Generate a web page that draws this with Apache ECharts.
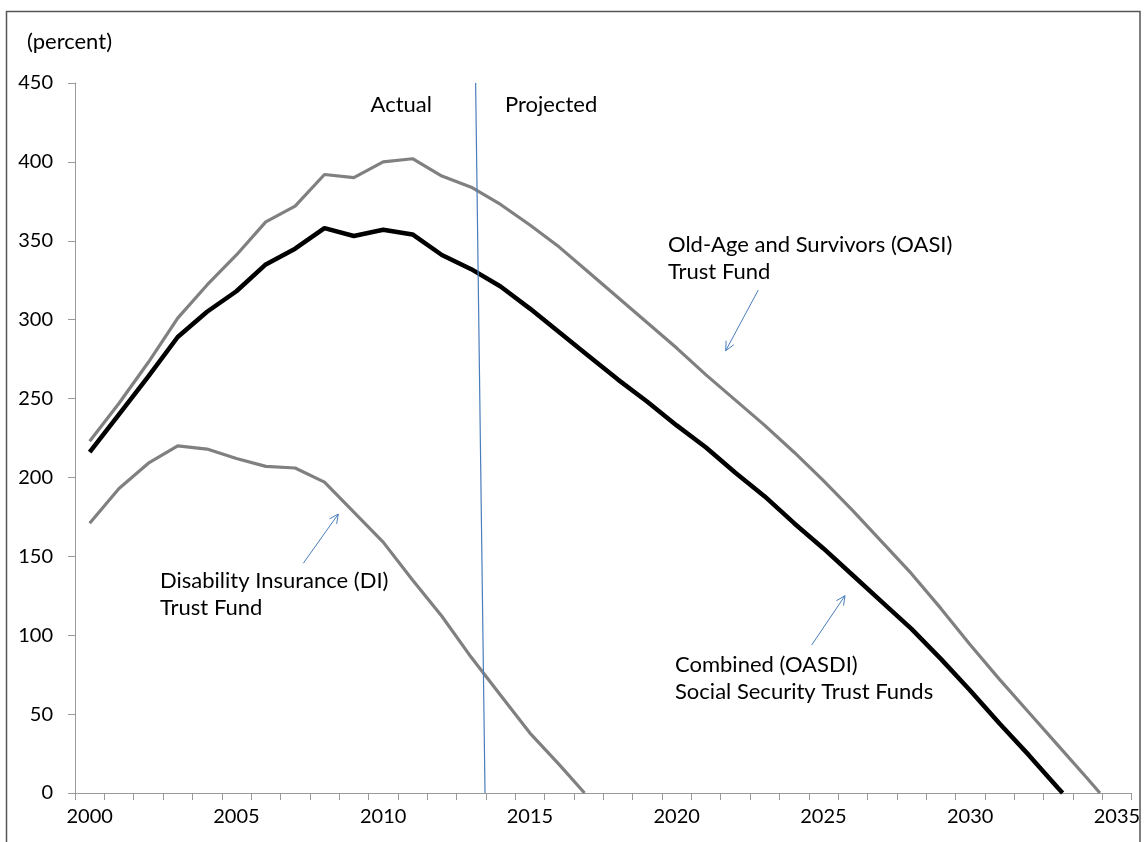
<!DOCTYPE html>
<html>
<head>
<meta charset="utf-8">
<script src="https://cdn.jsdelivr.net/npm/echarts@6/dist/echarts.min.js"></script>
<style>
html,body{margin:0;padding:0;background:#fff;}
#chart{width:1146px;height:842px;}
</style>
</head>
<body>
<div id="chart"></div>
<script>
// ---- data ----
const categories = [];
for (let y = 2000; y <= 2035; y++) categories.push(String(y));
const years = [2000,2001,2002,2003,2004,2005,2006,2007,2008,2009,2010,2011,2012,2013,2014,2015,2016,2017,2018,2019,2020,2021,2022,2023,2024,2025,2026,2027,2028,2029,2030,2031,2032,2033,2034];
const oasiValues = [223,247,273,301,322,341,362,372,392,390,400,402,391,384,373,360,346,330,314,298,282,265,249,233,216,198,179,159,139,117,94,72,51,30,9];
const oasdiValues = [216,240,264,289,305,318,335,345,358,353,357,354,341,332,321,307,292,277,262,248,233,219,203,188,171,155,138,121,104,85,65,44,24,3];
const diValues = [171,193,209,220,218,212,207,206,197,178,159,135,112,86,62,38,18];
const oasiDepletion = [2034.42, 0];
const oasdiDepletion = [2033.15, 0];
const diDepletion = [2016.86, 0];
const actualProjectedDivider = [[2013.15, 450], [2013.47, 0]];
const yTicks = {min: 0, max: 450, interval: 50};

function build(vals, end) {
  const d = vals.map((v, i) => [years[i], v]);
  d.push(end);
  return d;
}

const FONT = 'Lato';
const chart = echarts.init(document.getElementById('chart'));

function arrow(tail, tip) {
  const dx = tip[0] - tail[0], dy = tip[1] - tail[1];
  const len = Math.sqrt(dx*dx + dy*dy);
  const ux = dx/len, uy = dy/len;
  const hl = 10, ang = Math.PI/7;
  const c = Math.cos(ang), s = Math.sin(ang);
  const b1 = [tip[0] - hl*(ux*c - uy*s), tip[1] - hl*(uy*c + ux*s)];
  const b2 = [tip[0] - hl*(ux*c + uy*s), tip[1] - hl*(uy*c - ux*s)];
  const st = {stroke: '#4a7ebb', lineWidth: 1, fill: null};
  return [
    {type: 'line', shape: {x1: tail[0], y1: tail[1], x2: tip[0], y2: tip[1]}, style: st, z: 10},
    {type: 'polyline', shape: {points: [b1, tip, b2]}, style: st, z: 10}
  ];
}

function txt(x, y, text, align) {
  return {type: 'text', x: x, y: y, style: {text: text, fill: '#000', font: '22px ' + FONT, textAlign: align || 'left', textVerticalAlign: 'middle'}, z: 10};
}

const graphics = [
  {type: 'rect', shape: {x: 6.5, y: 11.5, width: 1133.5, height: 850}, style: {fill: null, stroke: '#555', lineWidth: 1.5}, z: 0},
  txt(27, 42, '(percent)'),
  txt(432, 105, 'Actual', 'right'),
  txt(505, 105, 'Projected'),
  txt(668, 245, 'Old-Age and Survivors (OASI)'),
  txt(668, 272, 'Trust Fund'),
  txt(160, 581, 'Disability Insurance (DI)'),
  txt(160, 608, 'Trust Fund'),
  txt(675, 665, 'Combined (OASDI)'),
  txt(675, 692, 'Social Security Trust Funds')
].concat(arrow([758.3, 290], [725.7, 350.7]))
 .concat(arrow([303.3, 563.3], [338.3, 514]))
 .concat(arrow([811.7, 645], [845, 595.7]));

chart.setOption({
  animation: false,
  backgroundColor: '#fff',
  grid: {left: 75, right: 14.4, top: 83, bottom: 49, containLabel: false},
  xAxis: [
    {
      type: 'category', data: categories, boundaryGap: true,
      axisLine: {lineStyle: {color: '#999', width: 1}},
      axisTick: {show: true, interval: 0, length: 7, lineStyle: {color: '#999'}},
      axisLabel: {interval: 4, color: '#000', fontFamily: FONT, fontSize: 20, margin: 14},
      splitLine: {show: false}
    },
    {
      type: 'value', min: 1999.5, max: 2035.5, show: false, splitLine: {show: false}
    }
  ],
  yAxis: {
    type: 'value', min: yTicks.min, max: yTicks.max, interval: yTicks.interval,
    axisLine: {show: true, lineStyle: {color: '#999', width: 1}},
    axisTick: {show: true, length: 7, lineStyle: {color: '#999'}},
    axisLabel: {color: '#000', fontFamily: FONT, fontSize: 20, margin: 22},
    splitLine: {show: false}
  },
  series: [
    {name: 'DI', type: 'line', xAxisIndex: 1, data: build(diValues, diDepletion), symbol: 'none',
     lineStyle: {color: '#808080', width: 3.2}, z: 3},
    {name: 'OASI', type: 'line', xAxisIndex: 1, data: build(oasiValues, oasiDepletion), symbol: 'none',
     lineStyle: {color: '#808080', width: 3.2}, z: 3},
    {name: 'OASDI', type: 'line', xAxisIndex: 1, data: build(oasdiValues, oasdiDepletion), symbol: 'none',
     lineStyle: {color: '#000', width: 4.5}, z: 4},
    {name: 'Divider', type: 'line', xAxisIndex: 1, data: actualProjectedDivider, symbol: 'none',
     lineStyle: {color: '#4a7ebb', width: 1.2}, z: 5}
  ],
  graphic: graphics
});
</script>
</body>
</html>
